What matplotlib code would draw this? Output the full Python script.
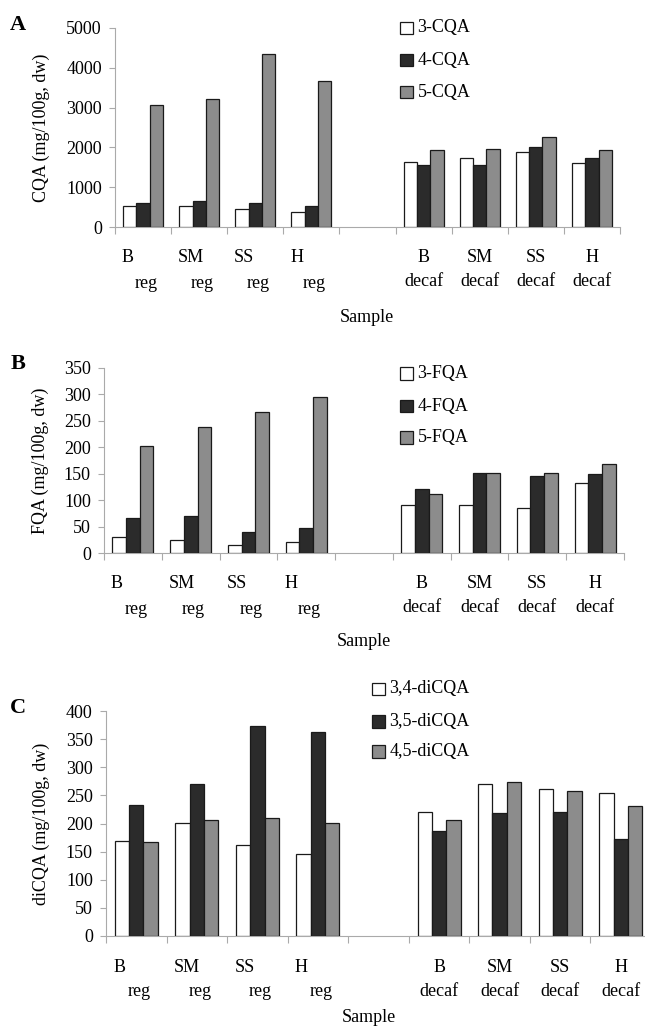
import matplotlib
matplotlib.use("Agg")
import matplotlib.pyplot as plt
from matplotlib.patches import Rectangle
import numpy as np

plt.rcParams['font.family'] = ['Liberation Serif', 'DejaVu Serif']

# ---------------- data ----------------
sample_top = ["B", "SM", "SS", "H", "", "B", "SM", "SS", "H"]
sample_bottom = ["reg", "reg", "reg", "reg", "", "decaf", "decaf", "decaf", "decaf"]

cqa_names = ["3-CQA", "4-CQA", "5-CQA"]
cqa_3 = [520, 530, 445, 365, None, 1645, 1730, 1890, 1610]
cqa_4 = [605, 650, 610, 525, None, 1570, 1570, 2020, 1730]
cqa_5 = [3065, 3225, 4355, 3675, None, 1930, 1970, 2265, 1930]

fqa_names = ["3-FQA", "4-FQA", "5-FQA"]
fqa_3 = [30, 24, 15, 21, None, 91, 91, 85, 133]
fqa_4 = [67, 70, 40, 48, None, 121, 151, 146, 149]
fqa_5 = [203, 239, 266, 296, None, 112, 151, 151, 169]

dicqa_names = ["3,4-diCQA", "3,5-diCQA", "4,5-diCQA"]
dicqa_34 = [169, 201, 161, 146, None, 221, 270, 261, 254]
dicqa_35 = [233, 270, 373, 362, None, 186, 218, 221, 173]
dicqa_45 = [167, 206, 210, 201, None, 206, 273, 258, 232]

W, H = 645, 1034
DPI = 100
fig = plt.figure(figsize=(W / DPI, H / DPI), dpi=DPI)

def fx(px):
    return px / W

def fy(py):
    return 1 - py / H

colors = ["white", "#2b2b2b", "#8c8c8c"]
FS = 13
axis_col = "#aaaaaa"

panels = [
    dict(letter="A", rect=(115, 28, 620, 227), ylim=5000, step=1000,
         ylabel="CQA (mg/100g, dw)", names=cqa_names, series=[cqa_3, cqa_4, cqa_5],
         leg_x=400, leg_y=[27.8, 60, 92], letter_xy=(18, 25), sample_y=318, sample_x=367,
         ylab_x=41),
    dict(letter="B", rect=(104, 368, 624, 553), ylim=350, step=50,
         ylabel="FQA (mg/100g, dw)", names=fqa_names, series=[fqa_3, fqa_4, fqa_5],
         leg_x=400, leg_y=[373.3, 406, 437.3], letter_xy=(18, 364), sample_y=642, sample_x=364,
         ylab_x=40),
    dict(letter="C", rect=(106, 711, 651, 936), ylim=400, step=50,
         ylabel="diCQA (mg/100g, dw)", names=dicqa_names, series=[dicqa_34, dicqa_35, dicqa_45],
         leg_x=372, leg_y=[689, 721.7, 751.7], letter_xy=(18, 708), sample_y=1018, sample_x=369,
         ylab_x=41),
]

n = len(sample_top)
x = np.arange(n)
bw = 0.237

for p in panels:
    l, t, r, b = p["rect"]
    ax = fig.add_axes([fx(l), fy(b), fx(r) - fx(l), fy(t) - fy(b)])
    for i, (vals, c) in enumerate(zip(p["series"], colors)):
        xs = [xi + (i - 1) * bw for xi, v in zip(x, vals) if v is not None]
        vs = [v for v in vals if v is not None]
        ax.bar(xs, vs, width=bw, color=c, edgecolor="#1a1a1a", linewidth=0.9, zorder=3)
    ax.set_xlim(-0.5, n - 0.5)
    ax.set_ylim(0, p["ylim"])
    ax.set_yticks(np.arange(0, p["ylim"] + 1, p["step"]))
    ax.tick_params(axis="y", labelsize=FS, length=4.5, width=0.8, color=axis_col, pad=5, direction="out")
    ax.set_xticks(np.arange(-0.5, n, 1.0))
    ax.set_xticklabels([])
    ax.tick_params(axis="x", length=5, width=0.8, color=axis_col, direction="out")
    for s in ["top", "right"]:
        ax.spines[s].set_visible(False)
    for s in ["left", "bottom"]:
        ax.spines[s].set_color(axis_col)
        ax.spines[s].set_linewidth(0.8)
    ax.patch.set_alpha(0)
    ax.set_clip_on(False)

    # category labels
    for i in range(n):
        if not sample_top[i]:
            continue
        if sample_bottom[i] == "reg":
            ax.annotate(sample_top[i], xy=(x[i] - 0.38, 0), xycoords=("data", "axes fraction"),
                        xytext=(0, -31), textcoords="offset pixels", ha="left", va="center",
                        fontsize=FS, annotation_clip=False)
            ax.annotate(sample_bottom[i], xy=(x[i] + 0.05, 0), xycoords=("data", "axes fraction"),
                        xytext=(0, -56), textcoords="offset pixels", ha="center", va="center",
                        fontsize=FS, annotation_clip=False)
        else:
            ax.annotate(sample_top[i], xy=(x[i], 0), xycoords=("data", "axes fraction"),
                        xytext=(0, -31), textcoords="offset pixels", ha="center", va="center",
                        fontsize=FS, annotation_clip=False)
            ax.annotate(sample_bottom[i], xy=(x[i], 0), xycoords=("data", "axes fraction"),
                        xytext=(0, -55), textcoords="offset pixels", ha="center", va="center",
                        fontsize=FS, annotation_clip=False)

    # y label
    fig.text(fx(p["ylab_x"]), fy((t + b) / 2), p["ylabel"], rotation=90, ha="center", va="center",
             fontsize=FS)
    # panel letter
    fig.text(fx(p["letter_xy"][0]), fy(p["letter_xy"][1]), p["letter"], ha="center", va="center",
             fontsize=16, fontweight="bold")
    # x label
    fig.text(fx(p["sample_x"]), fy(p["sample_y"]), "Sample", ha="center", va="center", fontsize=FS)

    # legend
    sq = 12.5
    for name, c, cy in zip(p["names"], colors, p["leg_y"]):
        fig.add_artist(Rectangle((fx(p["leg_x"]), fy(cy + sq / 2)), fx(sq), sq / H,
                                 transform=fig.transFigure, facecolor=c, edgecolor="#1a1a1a",
                                 linewidth=0.9))
        fig.text(fx(p["leg_x"] + sq + 5), fy(cy), name, ha="left", va="center", fontsize=FS)

fig.savefig("out.png", dpi=DPI)
